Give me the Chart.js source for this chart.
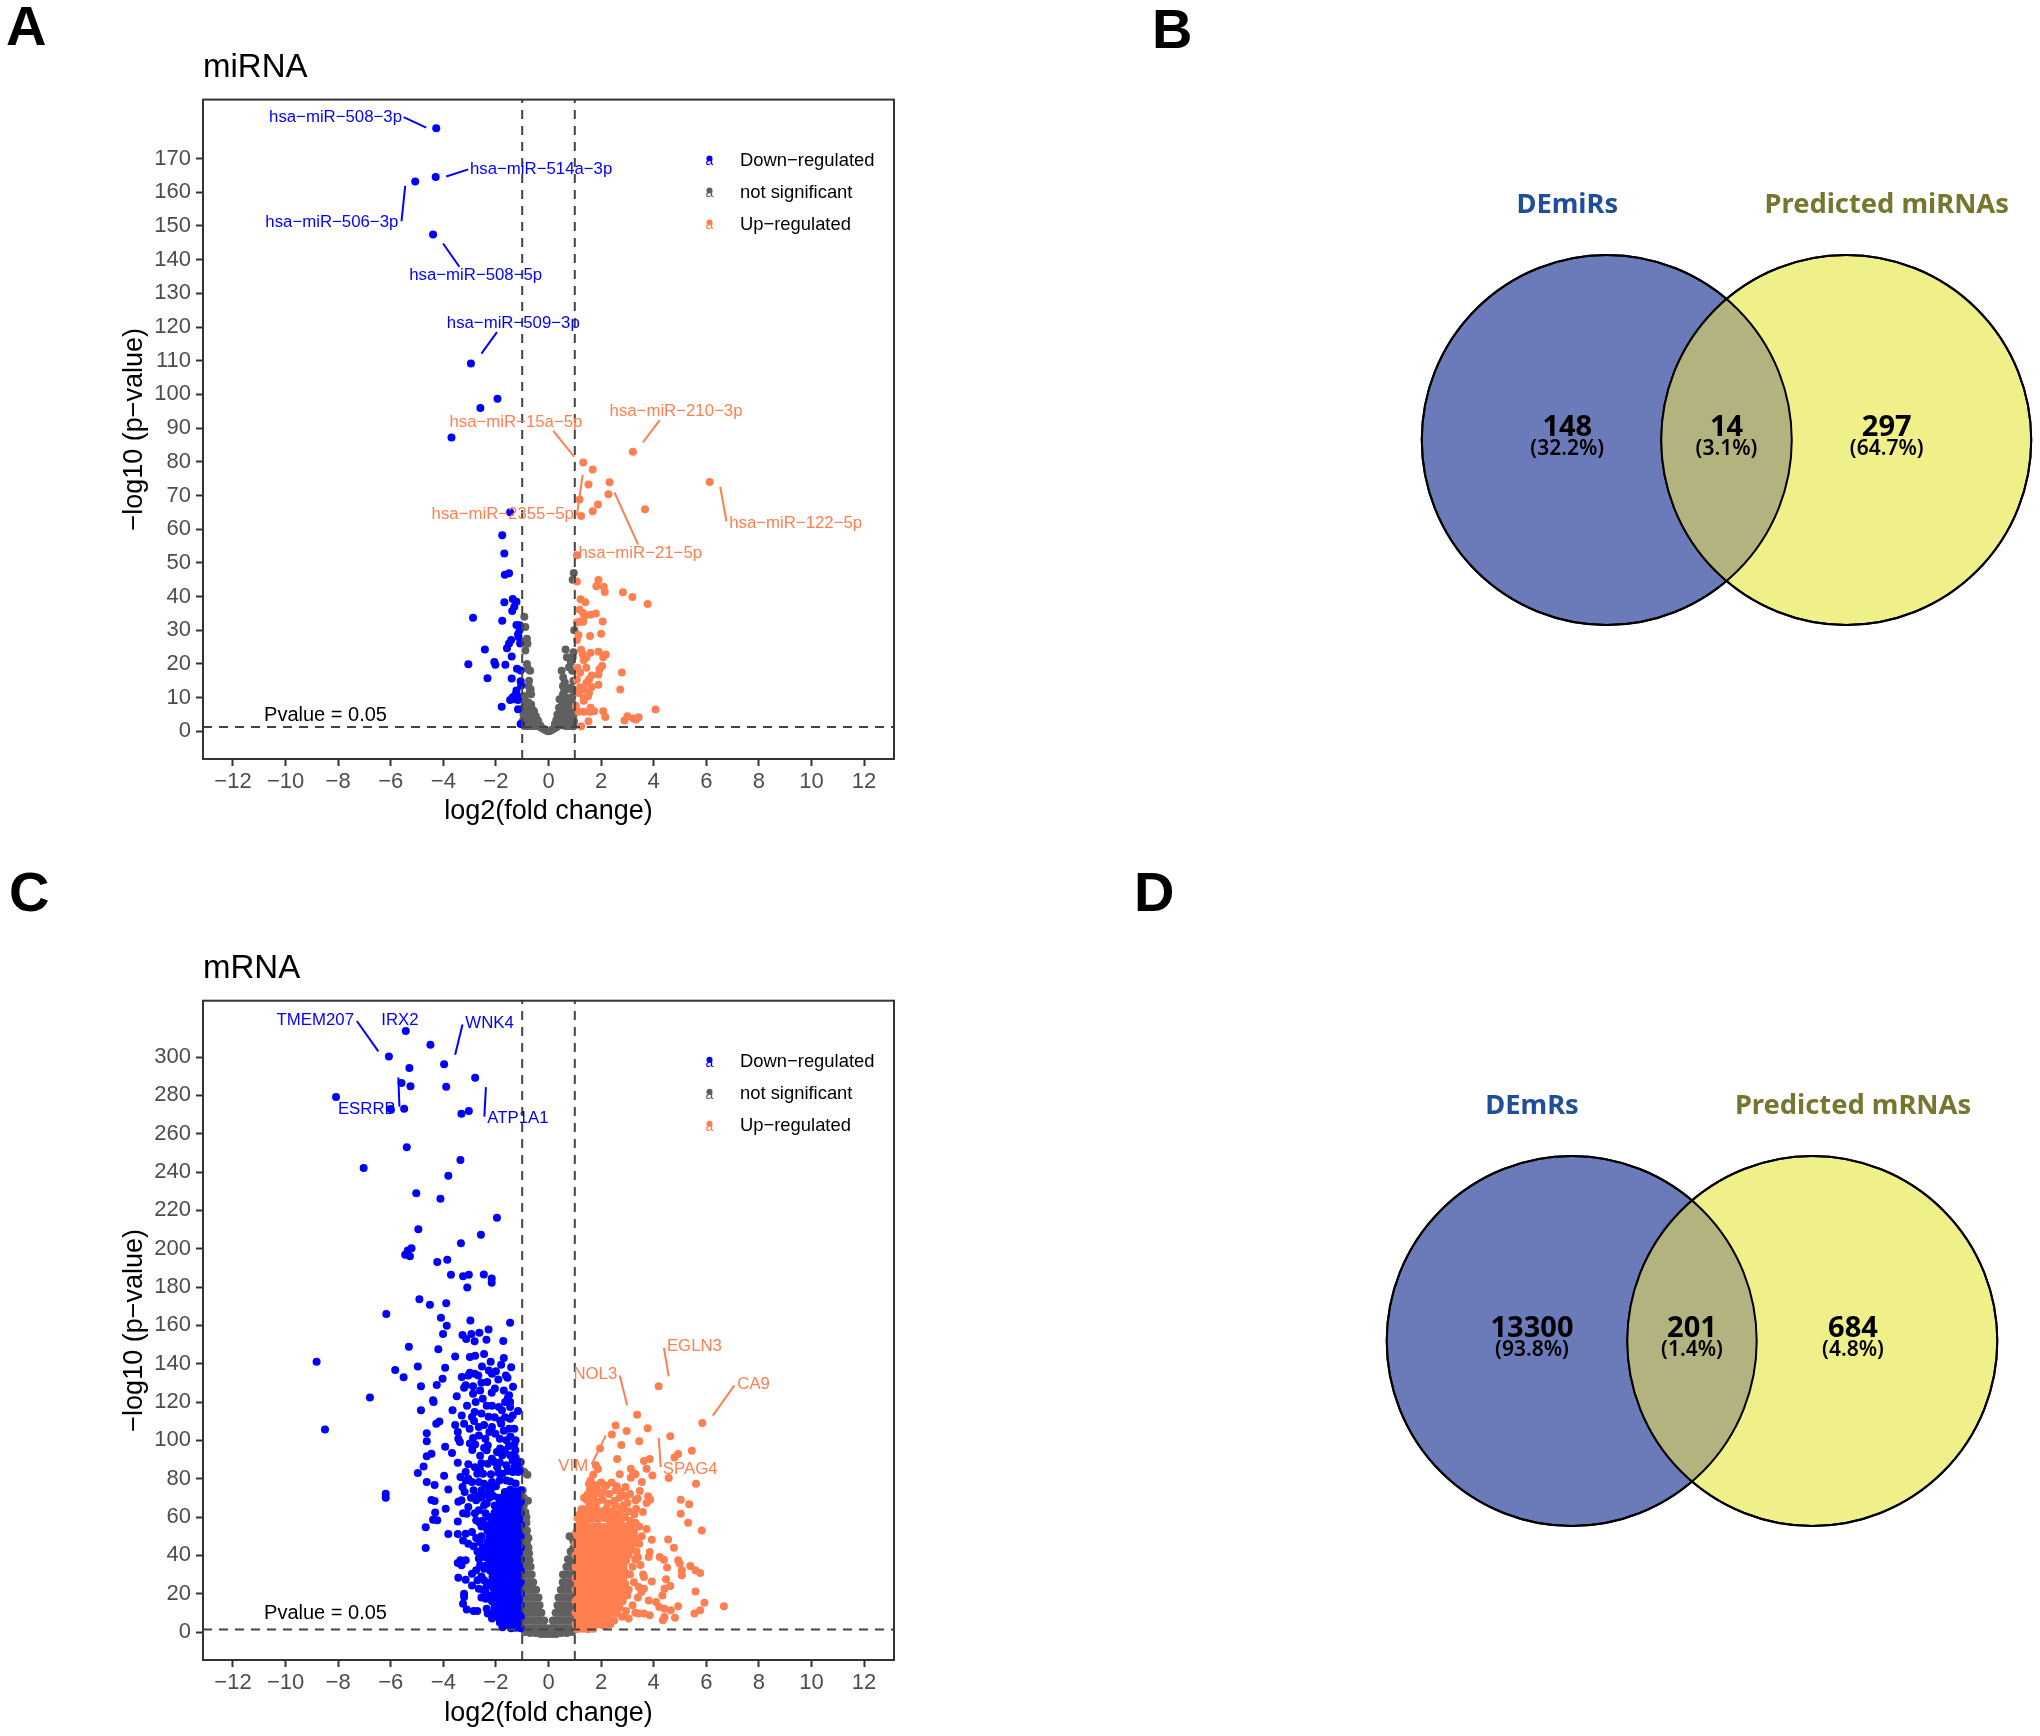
<!DOCTYPE html>
<html>
<head>
<meta charset="utf-8">
<title>Volcano and Venn panels</title>
<script src="https://cdn.jsdelivr.net/npm/chart.js@4"></script>
<style>
  html, body { margin: 0; padding: 0; background: #fff; }
  #page { position: relative; width: 2040px; height: 1736px; overflow: hidden; }
  canvas { position: absolute; }
  .letter { position: absolute; font: bold 56px "Liberation Sans", sans-serif; color: #000; line-height: 1; }
</style>
</head>
<body>
<div id="page">
  <div class="letter" style="left:6px;top:-2px">A</div>
  <div class="letter" style="left:1152px;top:1px">B</div>
  <div class="letter" style="left:9px;top:864px">C</div>
  <div class="letter" style="left:1134px;top:864px">D</div>
  <canvas id="panelA" style="left:0;top:0" width="960" height="828"></canvas>
  <canvas id="panelC" style="left:0;top:902px" width="960" height="828"></canvas>
  <canvas id="panelB" style="left:1413px;top:190px" width="627" height="500"></canvas>
  <canvas id="panelD" style="left:1377px;top:1091px" width="630" height="500"></canvas>
</div>
<script>
const xTicks = [-12, -10, -8, -6, -4, -2, 0, 2, 4, 6, 8, 10, 12];
const miYTicks = [0, 10, 20, 30, 40, 50, 60, 70, 80, 90, 100, 110, 120, 130, 140, 150, 160, 170];
const mYTicks = [0, 20, 40, 60, 80, 100, 120, 140, 160, 180, 200, 220, 240, 260, 280, 300];
const legendNames = ["Down−regulated", "not significant", "Up−regulated"];
const foldCuts = [-1, 1];
const pvalueCut = 1.3;

// miRNA panel
const miDown = [
  [-4.27,179],[-5.07,163.2],[-4.29,164.5],[-4.39,147.5],[-2.95,109.2],[-1.94,98.7],[-2.59,96],[-3.69,87.2],
  [-1.46,65],[-1.76,58.2],[-1.68,52.8],[-1.66,46.5],[-1.5,46.9],[-1.36,39.3],[-1.22,38.5],[-1.68,38.3],[-1.3,37],[-1.38,35.7],
  [-2.87,33.7],[-1.76,32.8],[-1.22,31.6],[-1.1,30.1],[-1.16,28.8],[-1.42,27.1],[-1.5,26.1],[-1.08,26.1],[-1.58,24.7],[-2.42,24.3],
  [-1.4,22.2],[-2.06,20.6],[-2.02,19.8],[-3.05,19.9],[-1.64,19.8],[-1.2,18.6],[-1.06,18.1],[-2.32,15.8],[-1.4,15.7],
  [-1.06,14.9],[-1.04,13.6],[-1.22,12.1],[-1.26,10.9],[-1.36,10.1],[-1.46,9.3],[-1.16,9.3],[-1.78,7.3],[-1.16,6.6],[-1.06,2.2],
  [-1.14,28],[-1.1,31.5],[-1.3,9.5],[-1.2,10.5]
];
const miFlat = [
  [-0.92,34],[-0.88,31],[-0.82,27.5],[-0.8,26],[-0.88,24],[-0.82,20],[-0.78,18.5],[-0.7,18],[-0.74,15],[-0.76,13.5],[-0.68,12.5],[-0.72,11.5],[-0.66,11],
  [-0.96,10.5],[-0.9,9.5],[-0.85,8.5],[-0.76,8.6],[-0.66,8],[-0.95,7],[-0.85,7],[-0.75,6.5],[-0.62,6.5],[-0.55,6],[-0.95,5],[-0.85,5],[-0.75,4.8],[-0.65,4.8],[-0.55,4.4],[-0.48,4.5],
  [-0.97,3.2],[-0.87,3.2],[-0.77,3.2],[-0.67,3.2],[-0.57,3],[-0.47,3],[-0.4,3.2],[-0.92,1.6],[-0.8,1.6],[-0.7,1.6],[-0.6,1.6],[-0.5,1.6],[-0.4,1.6],[-0.32,1.8],
  [-0.25,1],[-0.18,0.7],[-0.12,0.4],[-0.06,0.2],[0,0],[0.06,0.2],[0.12,0.4],[0.18,0.7],[0.25,1],[-0.3,1.2],[0.3,1.2],[0.36,1.8],[0.24,2.2],
  [0.96,47],[0.92,45],[0.98,30],[0.65,24.3],[0.7,22],[0.85,20.5],[0.92,22],[0.95,23.5],[0.78,19],[0.5,18],[0.56,16],[0.9,18],[0.62,14.5],[0.55,13.5],[0.95,15],[0.6,12],[0.7,12.5],[0.85,13],[0.95,12],
  [0.55,11],[0.7,10],[0.8,10],[0.9,10],[0.42,9.5],[0.5,9],[0.62,8.5],[0.75,8],[0.85,8],[0.95,8],[0.4,7],[0.5,6.5],[0.6,6.5],[0.7,6.5],[0.8,6.2],[0.9,6.2],[0.98,6],
  [0.34,5],[0.44,5],[0.54,4.8],[0.64,4.8],[0.74,4.6],[0.84,4.6],[0.94,4.4],[0.3,3.4],[0.4,3.4],[0.5,3.2],[0.6,3.2],[0.7,3.2],[0.8,3],[0.9,3],[0.97,3],[0.45,1.8],[0.55,1.8],[0.65,1.6],[0.75,1.6],[0.85,1.6],[0.95,1.5]
];
const miUp = [
  [3.21,83],[1.32,79.8],[1.68,77.7],[1.52,73.3],[2.32,73.9],[6.13,74],[2.28,70.4],[1.18,68.8],[1.88,67.3],[3.67,65.9],[1.68,65.3],[1.24,63.9],[1.08,52.3],[1.08,44.5],[1.9,44.9],[1.82,43.1],[2.1,42.9],[2.14,41.4],[2.83,41.3],[3.19,39.9],[3.77,37.8],
  [1.22,39.2],[1.4,38.3],[1.18,36.1],[1.32,35.1],[1.8,35],[1.6,34.6],[1.36,34],[2.06,32.6],[1.08,32.3],[1.32,32.5],[1.2,32.5],[2,29],[1.58,28.3],[1.14,28.6],[1.08,27.1],[1.24,24.2],[1.9,23.6],[1.6,23.3],[1.3,22.9],[2.18,22.8],[1.44,21.9],[2.08,22],[1.34,21.1],
  [2.04,19.4],[1.94,18.4],[2.79,17.5],[1.1,18.9],[1.44,18.9],[1.2,17.4],[1.64,16.6],[1.9,16.9],[1.54,15.4],[1.08,15.4],[1.44,14.4],[1.9,13.8],[1.64,13.2],[1.2,13.1],[1.34,12.4],[2.73,12.4],[1.54,11.4],[1.14,11.4],[1.34,9.9],[1.5,10.4],[1.34,9.1],
  [4.07,6.5],[1.04,7.5],[1.14,5.8],[1.34,5.8],[1.6,7],[1.58,5.8],[1.74,6],[2.08,6],[2.16,4.3],[3,4.5],[2.89,3.2],[3.23,3.8],[3.43,4.2],[1.52,3],[1.24,1.5],[3.33,3.5]
];
const miLabels = ["hsa−miR−508−3p", "hsa−miR−514a−3p", "hsa−miR−506−3p", "hsa−miR−508−5p", "hsa−miR−509−3p", "hsa−miR−210−3p", "hsa−miR−15a−5p", "hsa−miR−2355−5p", "hsa−miR−122−5p", "hsa−miR−21−5p"];
const miLabelX = [-8.1, -0.28, -8.24, -2.77, -1.34, 4.85, -1.24, -1.74, 9.4, 3.49];
const miLabelY = [182.1, 166.8, 151, 135.3, 121.2, 94.9, 91.7, 64.3, 61.6, 52.7];
const miLabelDown = [1, 1, 1, 1, 1, 0, 0, 0, 0, 0];
const miLinks = [
  [[-5.51,182.3],[-4.65,179.2]], [[-3.89,164.7],[-3.05,166.8]], [[-5.45,161.9],[-5.59,151.4]], [[-4.01,144.8],[-3.39,137.9]], [[-1.96,118.5],[-2.55,112.1]],
  [[4.23,92.4],[3.59,85.8]], [[0.18,89.2],[0.98,81.5]], [[1.3,76.2],[1.08,64.1]], [[6.53,72.6],[6.77,62.3]], [[2.51,70.9],[3.41,55.4]]
];

// mRNA panel
const mDown = [
  [-5.43,313.6],[-4.49,306.4],[-6.07,300.3],[-3.97,296.3],[-5.29,294.3],[-2.79,289.2],[-5.59,286.4],[-5.25,284.7],[-3.89,284.5],[-8.08,279.1],[-5.49,273],[-6,272.9],[-3.03,271.8],[-3.31,270.4],
  [-5.39,253],[-3.35,246.3],[-7.03,242.1],[-3.81,238.1],[-5.03,228.9],[-4.11,226.1],[-1.96,216.2],[-4.95,210.1],[-2.57,207.3],[-3.33,202.8],[-5.21,200.3],[-5.35,199],[-5.45,196.9],[-5.27,196],[-3.85,194.3],[-4.23,193],
  [-3.71,186.4],[-3.25,185.6],[-3.03,186.4],[-2.46,186.6],[-2.16,184.5],[-2.16,182.3],[-3.09,179.7],[-4.91,173.6],[-4.51,170.8],[-3.89,171.5],[-6.17,165.9],[-4.09,164],[-2.97,162.6],[-1.46,161.4],[-3.87,159.8],[-2.28,157.9],[-4.01,155.5],[-2.63,156.2],[-2.93,155.5],[-3.27,155],[-3.13,152.9],[-2.81,151.7],[-2.36,152.5],[-1.72,151.8],[-5.31,148.9],[-4.19,147.5],[-3.55,143.8],[-2.99,143.5],[-2.79,144.2],
  [-8.82,141],[-8.5,105.7],[-6.79,122.3],[-6.19,72.2],[-6.19,70.1],[-5.83,136.7],[-5.51,132.9],[-4.97,138.6],[-4.85,128.2],[-3.93,137.9],[-4.03,132.2],[-4.25,128.9],[-4.39,120.9],[-4.37,120],[-4.85,115.7],[-3.65,115.7],[-3.49,123],[-3.21,127.5],[-3.15,128.7],[-2.87,128.2],[-2.87,124.3],[-2.77,120],
  [-2.99,135.3],[-2.81,134.8],[-3.05,133.9],[-2.67,133.9],[-2.53,138.6],[-2.27,136.5],[-1.8,139.5],[-1.42,138.1],[-2.15,134.8],[-1.91,131.7],[-1.62,133.9],[-1.56,132.7],[-2.33,130.4],[-2.04,127],[-2.16,124.9],[-2.5,121.7],[-1.5,123.5],[-1.54,122.3],[-1.46,120],[-1.89,117.4],[-1.77,115.7],[-1.46,117.4],[-1.16,115.3],[-1.36,113],[-1.46,111.3],[-2.28,112.3],[-2.81,114.8],[-2.91,112.2],[-2.83,110.1],
  [-4.15,109.9],[-4.27,108.7],[-3.55,108],[-3.21,108.7],[-1.84,110.4],[-1.8,108.7],[-2.15,107],[-2.25,104.3],[-3.45,104.3],[-4.63,103.7],[-4.63,99.5],[-3.43,100.9],[-3.37,99.1],[-2.87,101.2],[-2.4,100.9],[-2.02,103.5],[-1.85,100.9],[-2.65,102.6],[-2.99,98.3],[-2.79,97.9],[-2.31,97.4],[-3.93,96.7],[-2.35,94.8],[-1.84,95.7],[-1.96,93.9],[-1.66,94.8],[-1.26,94.8],[-3.67,93.4],[-4.45,93],[-4.63,91.7],
  [-2.15,90.4],[-1.76,92.2],[-1.46,92.2],[-1.36,89.6],[-1.06,88.7],[-3.45,88.3],[-3.05,87.5],[-4.75,86.4],[-2.31,87.8],[-2.05,88.7],[-1.16,87],[-1.36,83.5],[-4.97,83],[-3.97,81.6],[-3.15,83.5],[-3.35,80.9],[-2.71,82.6],[-2.49,82.6],[-2.19,82.3],[-1.76,82.6],[-1.16,83.5],[-1.86,79.1],[-3.05,80],[-2.91,78.3],[-4.63,78.3],[-4.33,76.7],[-3.15,79],[-3.81,74.4],[-3.27,75.7],[-2.65,78.3],[-2.45,77.4],[-2.15,78.3],[-1.45,78.5],[-1.25,77.5],[-1.6,79],
  [-2.9,95],[-2.6,92],[-2.45,96],[-2.55,88],[-2.8,86],[-2.6,84.5],[-1.95,86],[-1.85,88.5],[-1.6,87],[-1.55,84],[-1.9,83],[-1.25,91],[-1.3,86],[-1.1,84],[-1.5,97],[-1.3,98],[-1.6,100],[-1.45,102],[-1.25,100],[-1.7,105],[-1.5,106],[-2.05,112],[-1.65,112],[-1.3,106],[-2.45,108],[-2.65,107],[-3,106],[-2.55,114],[-2.35,118],[-2.6,126],[-2.15,118],[-1.65,120],[-1.7,126],[-1.35,128],[-1.7,143],[-2.2,141],[-2.45,145],[-3.3,113],[-3.1,118],[-3.3,133],[-2,136],[-2.55,130],
  [-2.3,76],[-2.55,74],[-2.85,74],[-2.95,70],[-2.25,70],[-2.1,71],[-2.4,62],[-2.25,60],[-2.35,67],[-2.8,62],[-2.55,55],[-2.35,55],[-2.75,49],[-2.5,41],[-2.7,42],[-2.55,29],[-2.7,27],[-2.35,24],[-2.55,18],[-2.2,19],[-2.15,16],[-2.1,10],[-1.95,8],[-1.85,5],[-1.75,2.5],
  [-4.45,68.9],[-4.33,68.3],[-3.43,68],[-3.31,68.7],[-3.91,64.3],[-4.31,62.3],[-4.39,58.6],[-4.23,58.3],[-4.67,54.6],[-3.81,51.1],[-3.45,51.1],[-4.67,43.8],[-3.25,62],[-3.11,61.7],[-3.45,57.7],[-2.75,58.3],[-2.65,57.4],[-3.19,73],[-2.75,68.7],[-3.05,65.2],[-2.45,66.1],[-2.65,63.5],[-3.15,51.3],[-3.25,47.8],[-2.91,52.2],[-3.05,46.1],[-2.85,44.7],[-3.35,37.4],[-3.45,36],[-3.15,37.4],[-3.31,34.8],[-2.65,38.3],[-2.45,39.1],[-2.75,32.2],[-2.91,30.4],[-3.43,28.3],[-3.15,27.3],[-2.91,24.3],[-2.65,22.6],[-2.45,27],[-3.21,20],[-3.21,18.3],[-3.25,14.8],[-3.11,11.7],[-2.85,11],[-2.71,11],[-2.39,17.4],[-2.35,12.2],[-2.31,9.6],[-2.15,7],[-2.05,13],[-1.65,3.5],
  [-2.7,71],[-2.55,70],[-2.35,72],[-2.2,74],[-2,76],[-2.5,58],[-2.55,50],[-2.62,47],[-2.5,44],[-2.6,35],[-2.45,33],[-2.5,22],[-2.4,21],
  [-1.05,74],[-1.26,73.4],[-1.46,74.2],[-1.66,73],
  [-1.12,71],[-1.33,70.6],[-1.52,71.2],[-1.72,70.5],[-1.9,70],
  [-1.05,68],[-1.25,67.6],[-1.44,68.2],[-1.65,67.8],[-1.84,68],
  [-1.13,65],[-1.32,64.8],[-1.53,65.2],[-1.73,65],[-1.92,64.6],[-2.05,66],
  [-1.06,62],[-1.26,62.2],[-1.45,61.8],[-1.66,62],[-1.85,61.6],[-2.05,62.2],
  [-1.12,59],[-1.33,59.2],[-1.53,58.8],[-1.72,59],[-1.94,59.2],[-2.12,58.4],
  [-1.05,56],[-1.25,56.2],[-1.46,55.8],[-1.65,56],[-1.86,56.2],[-2.05,55.8],[-2.24,56],
  [-1.13,53],[-1.33,53.2],[-1.52,52.8],[-1.73,53],[-1.93,53.2],[-2.12,52.8],[-2.32,53],
  [-1.06,50],[-1.25,50.2],[-1.45,49.8],[-1.66,50],[-1.85,50.2],[-2.05,49.8],[-2.25,50],
  [-1.12,47],[-1.32,47.2],[-1.53,46.8],[-1.72,47],[-1.93,47.2],[-2.12,46.8],[-2.33,47],
  [-1.05,44],[-1.26,44.2],[-1.46,43.8],[-1.65,44],[-1.86,44.2],[-2.05,43.8],[-2.25,44],
  [-1.13,41],[-1.33,41.2],[-1.52,40.8],[-1.73,41],[-1.92,41.2],[-2.13,40.8],[-2.3,41],
  [-1.06,38],[-1.25,38.2],[-1.45,37.8],[-1.66,38],[-1.85,38.2],[-2.05,37.8],[-2.26,38],
  [-1.12,35],[-1.33,35.2],[-1.53,34.8],[-1.72,35],[-1.93,35.2],[-2.12,34.8],[-2.34,35],
  [-1.05,32],[-1.26,32.2],[-1.46,31.8],[-1.65,32],[-1.86,32.2],[-2.05,31.8],[-2.22,32],
  [-1.13,29],[-1.32,29.2],[-1.52,28.8],[-1.73,29],[-1.92,29.2],[-2.13,28.8],
  [-1.06,26],[-1.25,26.2],[-1.45,25.8],[-1.66,26],[-1.85,26.2],[-2.05,25.8],[-2.2,26],
  [-1.12,23],[-1.33,23.2],[-1.53,22.8],[-1.72,23],[-1.93,23.2],[-2.1,22.8],
  [-1.05,20],[-1.26,20.2],[-1.46,19.8],[-1.65,20],[-1.86,20.2],[-2.02,19.8],
  [-1.13,17],[-1.32,17.2],[-1.52,16.8],[-1.73,17],[-1.92,17.2],
  [-1.06,14],[-1.25,14.2],[-1.45,13.8],[-1.66,14],[-1.85,14.2],
  [-1.12,11],[-1.33,11.2],[-1.53,10.8],[-1.72,11],[-1.9,11.2],
  [-1.05,8],[-1.26,8.2],[-1.46,7.8],[-1.65,8],[-1.8,8.2],
  [-1.13,5],[-1.32,5.2],[-1.52,4.8],[-1.62,5],
  [-1.06,2],[-1.25,2.2],[-1.42,2]
];
const mFlat = [
  [-1,84],[-0.92,83.5],[-0.8,82],[-0.98,74],[-0.94,70],[-0.78,68.5],[-0.94,66],[-0.88,62.5],[-0.84,60],
  [-0.96,58],[-0.84,57],[-0.94,54],[-0.82,53],[-0.96,50],[-0.84,50],[-0.76,49],[-0.94,46],[-0.82,46],[-0.76,44],[-0.96,42],[-0.86,42],[-0.74,41],
  [-0.94,38],[-0.82,38],[-0.72,37.5],[-0.96,34],[-0.86,34],[-0.76,34],[-0.68,34],[-0.94,30],[-0.84,30],[-0.74,30],[-0.64,30],[-0.96,26],[-0.86,26],[-0.76,26],[-0.66,26],[-0.58,26],
  [-0.94,22],[-0.84,22],[-0.74,22],[-0.64,22],[-0.54,22],[-0.47,22],[-0.96,18],[-0.86,18],[-0.76,18],[-0.66,18],[-0.56,18],[-0.46,18],[-0.38,18],
  [-0.94,14],[-0.84,14],[-0.74,14],[-0.64,14],[-0.54,14],[-0.44,14],[-0.34,14],[-0.96,10],[-0.86,10],[-0.76,10],[-0.66,10],[-0.56,10],[-0.46,10],[-0.36,10],[-0.27,10],
  [-0.94,6],[-0.84,6],[-0.74,6],[-0.64,6],[-0.54,6],[-0.44,6],[-0.34,6],[-0.24,6],[-0.16,6],[-0.96,2],[-0.86,2],[-0.76,2],[-0.66,2],[-0.56,2],[-0.46,2],[-0.36,2],[-0.26,2],[-0.16,2],[-0.08,2],
  [-0.9,0],[-0.7,-0.5],[-0.5,-0.5],[-0.3,-1],[-0.15,-1],[0,-1],[0.15,-1],[0.3,-1],[0.5,-0.5],[0.7,-0.5],[0.9,0],[0,1.5],[0.08,2],[0.16,2],[0.26,2],[0.36,2],[0.46,2],[0.56,2],[0.66,2],[0.76,2],[0.86,2],[0.96,2],
  [0.16,6],[0.24,6],[0.34,6],[0.44,6],[0.54,6],[0.64,6],[0.74,6],[0.84,6],[0.94,6],[0.27,10],[0.36,10],[0.46,10],[0.56,10],[0.66,10],[0.76,10],[0.86,10],[0.96,10],
  [0.34,14],[0.44,14],[0.54,14],[0.64,14],[0.74,14],[0.84,14],[0.94,14],[0.38,18],[0.46,18],[0.56,18],[0.66,18],[0.76,18],[0.86,18],[0.96,18],[0.47,22],[0.54,22],[0.64,22],[0.74,22],[0.84,22],[0.94,22],
  [0.54,26],[0.6,26],[0.7,26],[0.8,26],[0.9,26],[0.98,26],[0.55,30],[0.64,30],[0.74,30],[0.84,30],[0.94,30],[0.68,34],[0.76,34],[0.86,34],[0.96,34],[0.74,38],[0.82,38],[0.94,38],[0.84,42],[0.92,42],[0.95,44],[0.94,47.8],[0.8,50]
];
const mUp = [
  [4.19,128.2],[5.85,109],[3.37,113.4],[2.55,107.7],[2.41,103],[2.97,104.9],[3.77,106.3],[4.63,102.1],[3.45,99.5],[2.77,97.6],[1.96,95.7],[5.45,94.6],[4.93,92.9],[4.79,91.1],[2.61,90.3],[3.85,90.3],[3.63,89.2],[1.8,87],[1.88,85],[3.13,85.2],[3.73,85.2],[3.23,83],[3.31,82.3],[2.71,82.3],[3.13,80.5],[3.95,81.7],[4.57,80.3],[5.61,77.4],[3.55,78.3],[1.7,82.1],[1.6,79.1],[1.54,77.4],[2.14,76.5],[1.84,74.7],[2.93,75.7],[3.47,73.6],
  [5.03,69],[5.35,66.6],[3.79,70.8],[3.87,69],[3.73,67.3],[3.39,69.6],[3.31,68.7],[3,67.3],[3.33,64.3],[5.03,61.7],[3.59,62.6],[3.27,61.4],[5.31,57],[5.83,53],[3.73,53.7],[3.93,48.2],[4.55,48.3],[4.77,44],[3.85,41.7],[3.81,39.1],[4.23,39.1],[4.39,37.7],[4.93,37.4],[4.99,35.7],[5.39,34.4],[4.51,33.6],[5.07,32.2],[5.07,29.6],[5.59,32.2],[5.77,30.8],[4.47,27.5],[3.93,26.4],[3.63,28.7],[3.43,23.5],[3.63,22.6],[3.53,20.9],[4.63,24],[4.41,22.6],[5.59,21.2],[4.33,19.1],[3.81,16.5],[4.09,15.7],[5.93,15.3],[6.67,13.4],[4.93,13.4],[4.21,13],[4.41,12.2],[4.65,11.3],[5.77,11.3],[5.55,9.6],[4.81,7.5],[4.41,7.8],[4.35,6.1],[3.85,8.7],[3.63,9.6],[3.43,9.6],[3.6,30],[3.5,35],[3.4,39],[3.25,26],[3.4,18],[3.2,14],[3.3,10],[3.05,7],
  [1.35,70],[1.5,72],[2.4,78],[2.6,76],[2.75,73],[2.95,71],[3.1,72],[1.7,70],[2.2,76.5],[2,78],[1.8,76.6],[3.05,63],[2.8,64],[2.55,66],[2.3,62],[2.05,61.5],[1.8,65],[1.45,69],[1.25,64],[1.15,61],[3.1,58],[3.3,57],[3.45,55],[3.55,50],[3.45,46],[3.35,42],[3.3,38],[3.2,34],[3.1,30],[3.05,22],[3,19],[2.95,11],[2.8,8],[2.5,6],[2.35,4],[2.15,3],[2.45,60.5],
  [1.58,74.5],[1.75,72],[1.95,72.5],[2.1,73],[2.3,72],[2.55,74],[2.7,70],[2.85,66],[2.5,68.5],[2.25,67],[2.05,69],[1.85,68],[1.55,67.5],[1.65,65],[1.38,64],[1.5,62],[1.72,62],[1.95,63],[2.18,64],[2.42,63],[2.65,62],[2.9,60],[1.3,60],[1.1,59.5],[1.42,58],[1.64,59],[1.86,59],[2.08,59.5],[2.3,58.5],[2.52,59],[2.75,58],[1.2,56.5],
  [1.1,55],[1.31,55.2],[1.52,54.8],[1.72,55],[1.93,55.2],[2.12,54.8],[2.33,55],[2.53,55.2],[2.74,54.8],[2.95,55],[3.15,55.2],
  [1.05,52],[1.24,52.2],[1.45,51.8],[1.65,52],[1.84,52.2],[2.05,51.8],[2.25,52],[2.44,52.2],[2.65,51.8],[2.85,52],[3.05,52.2],[3.25,52],
  [1.12,49],[1.32,49.2],[1.53,48.8],[1.72,49],[1.93,49.2],[2.12,48.8],[2.33,49],[2.53,49.2],[2.74,48.8],[2.93,49],[3.14,49.2],[3.3,49],
  [1.03,46],[1.24,46.2],[1.44,45.8],[1.65,46],[1.84,46.2],[2.05,45.8],[2.25,46],[2.44,46.2],[2.65,45.8],[2.85,46],[3.05,46.2],[3.22,46],
  [1.12,43],[1.32,43.2],[1.53,42.8],[1.72,43],[1.93,43.2],[2.12,42.8],[2.33,43],[2.53,43.2],[2.74,42.8],[2.93,43],[3.13,43.2],
  [1.03,40],[1.24,40.2],[1.44,39.8],[1.65,40],[1.84,40.2],[2.05,39.8],[2.25,40],[2.44,40.2],[2.65,39.8],[2.85,40],[3.05,40.2],
  [1.12,37],[1.32,37.2],[1.53,36.8],[1.72,37],[1.93,37.2],[2.12,36.8],[2.33,37],[2.53,37.2],[2.74,36.8],[2.95,37],
  [1.03,34],[1.24,34.2],[1.44,33.8],[1.65,34],[1.84,34.2],[2.05,33.8],[2.25,34],[2.44,34.2],[2.65,33.8],[2.85,34],
  [1.12,31],[1.32,31.2],[1.53,30.8],[1.72,31],[1.93,31.2],[2.12,30.8],[2.33,31],[2.53,31.2],[2.74,30.8],[2.92,31],
  [1.03,28],[1.24,28.2],[1.44,27.8],[1.65,28],[1.84,28.2],[2.05,27.8],[2.25,28],[2.44,28.2],[2.65,27.8],[2.85,28],
  [1.12,25],[1.32,25.2],[1.53,24.8],[1.72,25],[1.93,25.2],[2.12,24.8],[2.33,25],[2.53,25.2],[2.74,24.8],[2.92,25],
  [1.03,22],[1.24,22.2],[1.44,21.8],[1.65,22],[1.84,22.2],[2.05,21.8],[2.25,22],[2.44,22.2],[2.65,21.8],[2.82,22],
  [1.12,19],[1.32,19.2],[1.53,18.8],[1.72,19],[1.93,19.2],[2.12,18.8],[2.33,19],[2.53,19.2],[2.74,18.8],
  [1.03,16],[1.24,16.2],[1.44,15.8],[1.65,16],[1.84,16.2],[2.05,15.8],[2.25,16],[2.44,16.2],[2.65,15.8],[2.82,16],
  [1.12,13],[1.32,13.2],[1.53,12.8],[1.72,13],[1.93,13.2],[2.12,12.8],[2.33,13],[2.53,13.2],[2.7,12.8],
  [1.03,10],[1.24,10.2],[1.44,9.8],[1.65,10],[1.84,10.2],[2.05,9.8],[2.25,10],[2.44,10.2],[2.6,9.8],
  [1.12,7],[1.32,7.2],[1.53,6.8],[1.72,7],[1.93,7.2],[2.12,6.8],[2.3,7],
  [1.03,4],[1.24,4.2],[1.44,3.8],[1.65,4],[1.84,4.2],[2,3.8],
  [1.08,1.5],[1.3,1.7],[1.5,1.5],[1.7,1.7]
];
const mLabels = ["TMEM207", "IRX2", "WNK4", "ESRRB", "ATP1A1", "EGLN3", "NOL3", "CA9", "VIM", "SPAG4"];
const mLabelX = [-8.87, -5.65, -2.24, -6.91, -1.16, 5.55, 1.78, 7.8, 0.94, 5.39];
const mLabelY = [319.1, 319.1, 317.6, 272.7, 268, 149, 134.4, 129, 86.3, 85];
const mLabelDown = [1, 1, 1, 1, 1, 0, 0, 0, 0, 0];
const mLinks = [
  [[-7.29,318.8],[-6.47,303]], [[-3.27,317],[-3.55,301.2]], [[-5.71,289.4],[-5.67,274.1]], [[-2.38,284.3],[-2.44,268.9]],
  [[4.39,148.3],[4.57,133.4]], [[2.71,133.9],[2.99,118.3]], [[7.07,128.7],[6.25,112.9]], [[2.18,102.6],[1.64,87.5]], [[4.19,101.4],[4.27,86.1]]
];
const mLinkDown = [1, 1, 1, 1, 0, 0, 0, 0, 0];

// Venn counts
const vennCentreX = [-120.3, 120.3];
const vennRadius = [185, 185];
const miVennSets = ["DEmiRs", "Predicted miRNAs"];
const miVennCounts = ["148", "14", "297"];
const miVennShares = ["(32.2%)", "(3.1%)", "(64.7%)"];
const mVennSets = ["DEmRs", "Predicted mRNAs"];
const mVennCounts = ["13300", "201", "684"];
const mVennShares = ["(93.8%)", "(1.4%)", "(4.8%)"];
const vennSetX = [-160, 161];
const vennCountX = [-160, 0, 161];

const BLUE = "#0000ff", GREY = "#606060", CORAL = "#ff7f50";
const SANS = '"Liberation Sans", Arial, sans-serif';

function volcano(id, cfg) {
  const linkSets = cfg.links.map((pts, i) => ({
    type: "scatter", data: pts, showLine: true, pointRadius: 0, borderWidth: 2,
    borderColor: cfg.linkDown[i] ? BLUE : CORAL
  }));
  const cutSets = foldCuts.map(v => ({
    type: "scatter", data: [[v, cfg.yMin], [v, cfg.yMax]], showLine: true, pointRadius: 0,
    borderWidth: 2, borderColor: "#444", borderDash: [9, 7]
  }));
  cutSets.push({
    type: "scatter", data: [[-13.14, pvalueCut], [13.14, pvalueCut]], showLine: true, pointRadius: 0,
    borderWidth: 2, borderColor: "#444", borderDash: [9, 7]
  });
  const dots = (data, colour) => ({ data: data, pointRadius: 4, pointHoverRadius: 4, pointBackgroundColor: colour, pointBorderWidth: 0 });

  new Chart(document.getElementById(id), {
    type: "scatter",
    data: { datasets: [...linkSets, ...cutSets, dots(cfg.down, BLUE), dots(cfg.up, CORAL), dots(cfg.flat, GREY)] },
    options: {
      responsive: false, animation: false, devicePixelRatio: 1,
      layout: { autoPadding: false, padding: { left: 118, right: 66, top: cfg.padTop, bottom: 0 } },
      plugins: {
        legend: { display: false }, tooltip: { enabled: false },
        title: {
          display: true, text: cfg.title, align: "start", fullSize: false, color: "#000",
          font: { family: SANS, size: 33, weight: "normal", lineHeight: 1.2 }, padding: { top: 0, bottom: 12 }
        }
      },
      scales: {
        x: {
          type: "linear", min: -13.14, max: 13.14,
          afterBuildTicks: s => { s.ticks = xTicks.map(v => ({ value: v })); },
          afterFit: s => { s.height = cfg.axisHeight; },
          grid: { drawOnChartArea: false, drawTicks: true, tickLength: 7, tickWidth: 2, color: "#333" },
          border: { display: false },
          ticks: { color: "#4d4d4d", autoSkip: false, maxRotation: 0, padding: 3, font: { family: SANS, size: 22 }, callback: v => String(v).replace("-", "−") },
          title: { display: true, text: "log2(fold change)", color: "#000", font: { family: SANS, size: 27 }, padding: { top: 0, bottom: 0 } }
        },
        y: {
          type: "linear", min: cfg.yMin, max: cfg.yMax,
          afterBuildTicks: s => { s.ticks = cfg.yTicks.map(v => ({ value: v })); },
          afterFit: s => { s.width = 85; },
          grid: { drawOnChartArea: false, drawTicks: true, tickLength: 7, tickWidth: 2, color: "#333" },
          border: { display: false },
          ticks: { color: "#4d4d4d", autoSkip: false, padding: 5, font: { family: SANS, size: 22 } },
          title: { display: true, text: "−log10 (p−value)", color: "#000", font: { family: SANS, size: 27 }, padding: { top: 0, bottom: 0 } }
        }
      }
    },
    plugins: [{
      id: "volcanoExtras",
      afterDatasetsDraw(chart) {
        const { ctx, chartArea: a, scales: { x, y } } = chart;
        ctx.save();
        ctx.strokeStyle = "#333";
        ctx.lineWidth = 2;
        ctx.strokeRect(a.left, a.top, a.width, a.height);

        ctx.textAlign = "center";
        ctx.textBaseline = "middle";
        ctx.font = "16.8px " + SANS;
        cfg.labels.forEach((t, i) => {
          ctx.fillStyle = cfg.labelDown[i] ? BLUE : CORAL;
          ctx.fillText(t, x.getPixelForValue(cfg.labelX[i]), y.getPixelForValue(cfg.labelY[i]));
        });

        ctx.fillStyle = "#000";
        ctx.font = "20px " + SANS;
        ctx.fillText("Pvalue = 0.05", x.getPixelForValue(-8.48), y.getPixelForValue(cfg.pvalueTextY));

        // legend keys: a dot with the letter a on it, as ggplot draws them
        [BLUE, GREY, CORAL].forEach((c, i) => {
          const ly = a.top + 61 + i * 32;
          ctx.fillStyle = c;
          ctx.beginPath();
          ctx.arc(a.left + 506.5, ly - 2, 3, 0, Math.PI * 2);
          ctx.fill();
          ctx.font = "14px " + SANS;
          ctx.textAlign = "center";
          ctx.fillText("a", a.left + 506.5, ly + 1);
          ctx.fillStyle = "#000";
          ctx.font = "18.4px " + SANS;
          ctx.textAlign = "left";
          ctx.fillText(legendNames[i], a.left + 537, ly);
        });
        ctx.restore();
      }
    }]
  });
}

function venn(id, sets, counts, shares) {
  new Chart(document.getElementById(id), {
    type: "bubble",
    data: {
      datasets: [{
        data: vennCentreX.map((x, i) => ({ x: x, y: 0, r: vennRadius[i] })),
        backgroundColor: ["#6b7ab9", "#f0f08a"],
        borderColor: "#000", borderWidth: 2, clip: false
      }]
    },
    options: {
      responsive: false, animation: false, devicePixelRatio: 1,
      layout: { autoPadding: false, padding: 0 },
      plugins: { legend: { display: false }, tooltip: { enabled: false } },
      scales: {
        x: { type: "linear", min: -315, max: 315, display: false },
        y: { type: "linear", min: -250, max: 250, display: false }
      }
    },
    plugins: [{
      id: "vennExtras",
      afterDatasetsDraw(chart) {
        const { ctx, scales: { x, y } } = chart;
        const pts = chart.getDatasetMeta(0).data;
        const circle = i => { ctx.beginPath(); ctx.arc(pts[i].x, pts[i].y, vennRadius[i], 0, Math.PI * 2); };
        ctx.save();
        ctx.save();
        circle(0);
        ctx.clip();
        circle(1);
        ctx.fillStyle = "#b3b37f";
        ctx.fill();
        ctx.restore();
        ctx.strokeStyle = "#000";
        ctx.lineWidth = 2;
        circle(0);
        ctx.stroke();
        circle(1);
        ctx.stroke();

        ctx.textAlign = "center";
        ctx.textBaseline = "middle";
        ctx.font = 'bold 27.3px "Noto Sans", sans-serif';
        ctx.fillStyle = "#1f4e9e";
        ctx.fillText(sets[0], x.getPixelForValue(vennSetX[0]), y.getPixelForValue(234.5));
        ctx.fillStyle = "#76762e";
        ctx.fillText(sets[1], x.getPixelForValue(vennSetX[1]), y.getPixelForValue(234.5));

        ctx.fillStyle = "#000";
        counts.forEach((t, i) => {
          ctx.font = 'bold 29px "Noto Sans", sans-serif';
          ctx.fillText(t, x.getPixelForValue(vennCountX[i]), y.getPixelForValue(12));
          ctx.font = '600 21px "Noto Sans", sans-serif';
          ctx.fillText(shares[i], x.getPixelForValue(vennCountX[i]), y.getPixelForValue(-9.5));
        });
        ctx.restore();
      }
    }]
  });
}

volcano("panelA", {
  title: "miRNA", down: miDown, flat: miFlat, up: miUp,
  labels: miLabels, labelX: miLabelX, labelY: miLabelY, labelDown: miLabelDown,
  links: miLinks, linkDown: miLabelDown, yTicks: miYTicks, yMin: -8.2, yMax: 187.5,
  pvalueTextY: 4.8, padTop: 48, axisHeight: 69
});
volcano("panelC", {
  title: "mRNA", down: mDown, flat: mFlat, up: mUp,
  labels: mLabels, labelX: mLabelX, labelY: mLabelY, labelDown: mLabelDown,
  links: mLinks, linkDown: mLinkDown, yTicks: mYTicks, yMin: -14.6, yMax: 329.4,
  pvalueTextY: 9.5, padTop: 47.1, axisHeight: 70
});
venn("panelB", miVennSets, miVennCounts, miVennShares);
venn("panelD", mVennSets, mVennCounts, mVennShares);
</script>
</body>
</html>
